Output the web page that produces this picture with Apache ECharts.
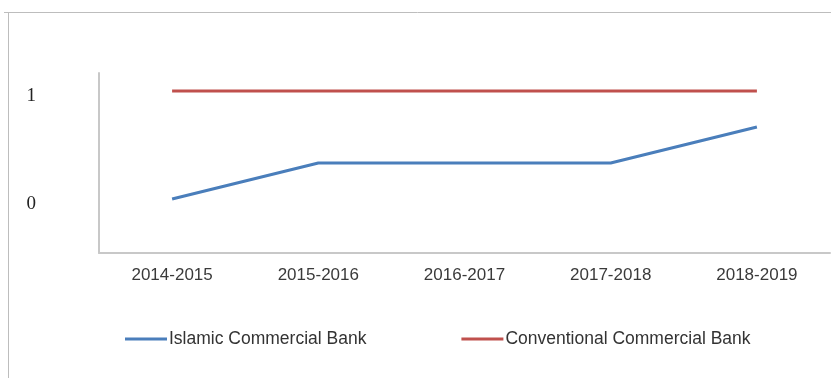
<!DOCTYPE html>
<html>
<head>
<meta charset="utf-8">
<script src="https://cdn.jsdelivr.net/npm/echarts@6/dist/echarts.min.js"></script>
<style>html,body{margin:0;padding:0;background:#fff;}#c{width:831px;height:378px;}</style>
</head>
<body>
<div id="c"></div>
<script>
const categories = ['2014-2015', '2015-2016', '2016-2017', '2017-2018', '2018-2019'];
const islamic = [0, 0.333, 0.333, 0.333, 0.667];
const conventional = [1, 1, 1, 1, 1];
const yTickLabels = ['0', '1'];

const chart = echarts.init(document.getElementById('c'), null, {renderer: 'canvas'});
chart.setOption({
  animation: false,
  backgroundColor: '#fff',
  graphic: [
    {type: 'line', shape: {x1: 4, y1: 12.5, x2: 831, y2: 12.5}, style: {stroke: '#bdbdbd', lineWidth: 1}},
    {type: 'line', shape: {x1: 8.5, y1: 12, x2: 8.5, y2: 378}, style: {stroke: '#bdbdbd', lineWidth: 1}}
  ],
  grid: {left: 99, right: 1, top: 73, bottom: 125, containLabel: false},
  legend: {
    left: 125, top: 330, padding: 0,
    icon: 'rect', itemWidth: 42, itemHeight: 3, itemGap: 95,
    textStyle: {fontFamily: 'Liberation Sans', fontSize: 17.5, color: '#333', padding: [0, 0, 0, -3]},
    data: ['Islamic Commercial Bank', 'Conventional Commercial Bank']
  },
  xAxis: {
    type: 'category', data: categories, boundaryGap: true,
    axisLine: {show: true, onZero: false, lineStyle: {color: '#c8c8c8', width: 2}},
    axisTick: {show: false},
    axisLabel: {fontFamily: 'Liberation Sans', fontSize: 17, color: '#3a3a3a', margin: 14}
  },
  yAxis: {
    type: 'value', min: -0.5, max: 7/6, interval: 1/6,
    splitLine: {show: false},
    axisTick: {show: false},
    axisLine: {show: true, lineStyle: {color: '#c8c8c8', width: 2}},
    axisLabel: {
      margin: 63,
      formatter: function (v) {
        for (const t of yTickLabels) { if (Math.abs(v - Number(t)) < 1e-6) return '{a|' + t + '}'; }
        return '';
      },
      rich: {
        a: {fontFamily: 'Liberation Serif', fontSize: 19, color: '#222', padding: [10, 0, 0, 0]}
      }
    }
  },
  series: [
    {name: 'Islamic Commercial Bank', type: 'line', data: islamic, showSymbol: false, symbol: 'none',
     lineStyle: {color: '#4a7ebb', width: 3}, itemStyle: {color: '#4a7ebb'}},
    {name: 'Conventional Commercial Bank', type: 'line', data: conventional, showSymbol: false, symbol: 'none',
     lineStyle: {color: '#c0504d', width: 3}, itemStyle: {color: '#c0504d'}}
  ]
});
</script>
</body>
</html>
